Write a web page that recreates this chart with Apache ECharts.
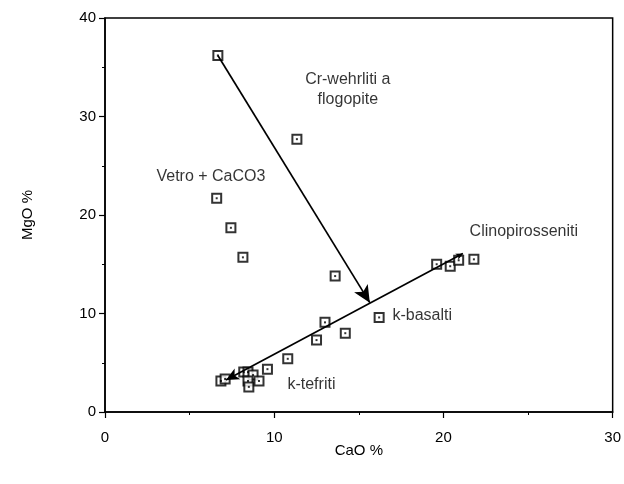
<!DOCTYPE html>
<html>
<head>
<meta charset="utf-8">
<script src="https://cdn.jsdelivr.net/npm/echarts@6/dist/echarts.min.js"></script>
<style>
  html, body { margin: 0; padding: 0; background: #fff; }
  #chart { width: 624px; height: 484px; }
</style>
</head>
<body>
<div id="chart"></div>
<script>
// CaO vs MgO (wt %) of the analysed samples
const caO = [6.67, 11.34, 6.6, 7.44, 8.15, 13.6, 13.0, 16.2, 14.2, 12.5,
             19.6, 20.4, 20.9, 21.8,
             6.85, 7.1, 8.2, 8.45, 8.75, 8.45, 8.5, 9.1, 9.6, 10.8];
const mgO = [36.2, 27.7, 21.7, 18.7, 15.7, 13.8, 9.1, 9.6, 8.0, 7.3,
             15.0, 14.8, 15.4, 15.5,
             3.15, 3.35, 4.05, 4.05, 3.75, 3.15, 2.55, 3.15, 4.35, 5.4];

// trend lines: [CaO, MgO] end points
const crArrow = [[6.67, 36.2], [15.65, 11.1]];
const kTrend = [[7.15, 3.25], [21.15, 16.1]];

// field labels: [text, CaO, MgO]
const fieldLabels = [
  ['Cr-wehrliti a', 14.35, 33.7],
  ['flogopite', 14.35, 31.7],
  ['Vetro + CaCO3', 6.26, 23.9],
  ['Clinopirosseniti', 24.75, 18.3],
  ['k-basalti', 18.75, 9.75],
  ['k-tefriti', 12.2, 2.75]
];

const xTicks = [0, 10, 20, 30];
const yTicks = [0, 10, 20, 30, 40];

const points = caO.map((c, i) => [c, mgO[i]]);
const FONT = 'Liberation Sans, Arial, Helvetica, sans-serif';
const INK = '#000';

const chart = echarts.init(document.getElementById('chart'), null, { renderer: 'canvas' });

const axisCommon = {
  axisLine: { show: true, onZero: false, lineStyle: { color: INK, width: 1.5 } },
  axisTick: { show: true, inside: false, length: 6, lineStyle: { color: INK, width: 1.2 } },
  minorTick: { show: true, splitNumber: 2, length: 3, lineStyle: { color: INK, width: 1 } },
  splitLine: { show: false },
  nameTextStyle: { fontFamily: FONT, fontSize: 15, color: INK },
  axisLabel: { fontFamily: FONT, fontSize: 15, color: INK }
};

chart.setOption({
  animation: false,
  backgroundColor: '#fff',
  grid: {
    left: 105, right: 11, top: 18, bottom: 72,
    show: true, borderColor: INK, borderWidth: 1.5
  },
  xAxis: Object.assign({}, axisCommon, {
    type: 'value', min: xTicks[0], max: xTicks[xTicks.length - 1], interval: 10,
    name: 'CaO %', nameLocation: 'middle', nameGap: 31, nameMoveOverlap: false,
    axisLabel: Object.assign({}, axisCommon.axisLabel, { margin: 18 })
  }),
  yAxis: Object.assign({}, axisCommon, {
    type: 'value', min: yTicks[0], max: yTicks[yTicks.length - 1], interval: 10,
    name: 'MgO %', nameLocation: 'middle', nameGap: 70, nameRotate: 90,
    axisLabel: Object.assign({}, axisCommon.axisLabel, { margin: 9 })
  }),
  series: [
    {
      // trend arrows
      type: 'line', data: [], silent: true,
      markLine: {
        silent: true,
        animation: false,
        label: { show: false },
        lineStyle: { color: INK, width: 1.7, type: 'solid' },
        data: [
          [
            { coord: crArrow[0], symbol: 'none' },
            { coord: crArrow[1], symbol: 'arrow', symbolSize: [12, 17] }
          ],
          [
            { coord: kTrend[0], symbol: 'arrow', symbolSize: [9, 13] },
            { coord: kTrend[1], symbol: 'arrow', symbolSize: [5, 7] }
          ]
        ]
      }
    },
    {
      // sample squares
      type: 'scatter', data: points, symbol: 'rect', symbolSize: 9,
      itemStyle: { color: '#fff', borderColor: INK, borderWidth: 2 },
      z: 3
    },
    {
      // centre dots
      type: 'scatter', data: points, symbol: 'rect', symbolSize: 2,
      itemStyle: { color: INK }, z: 4
    },
    {
      // field names
      type: 'scatter', symbolSize: 0, silent: true,
      data: fieldLabels.map(f => ({ value: [f[1], f[2]], name: f[0] })),
      label: {
        show: true, position: 'inside',
        formatter: p => p.name,
        fontFamily: FONT, fontSize: 16, color: INK
      },
      z: 5
    }
  ]
});
</script>
</body>
</html>
